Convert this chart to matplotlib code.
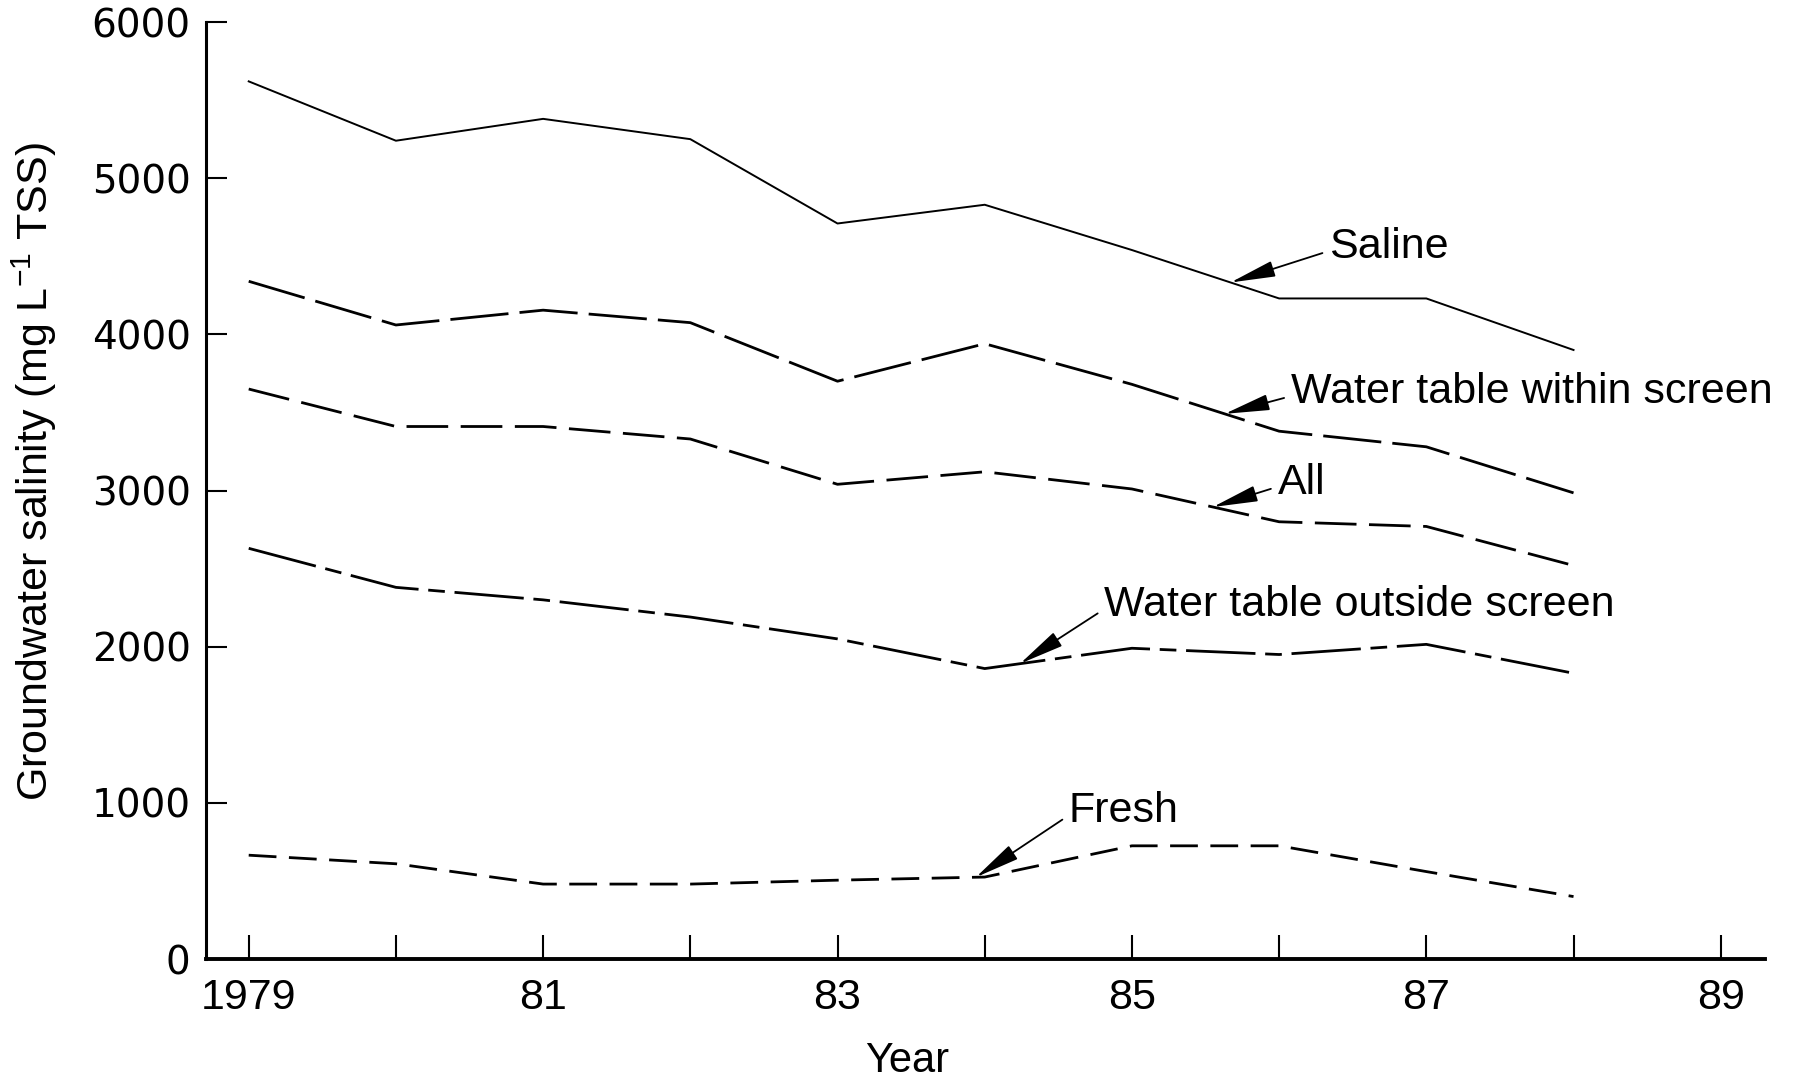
import numpy as np
import matplotlib
matplotlib.use("Agg")
import matplotlib.pyplot as plt

# annual mean groundwater salinity, mg/L TSS
years = [1979, 1980, 1981, 1982, 1983, 1984, 1985, 1986, 1987, 1988]
saline = [5620, 5240, 5380, 5250, 4710, 4830, 4540, 4230, 4230, 3900]
within_screen = [4340, 4060, 4155, 4075, 3700, 3940, 3680, 3380, 3280, 2985]
all_sites = [3650, 3410, 3410, 3330, 3040, 3120, 3010, 2800, 2770, 2520]
outside_screen = [2630, 2380, 2300, 2190, 2050, 1860, 1990, 1950, 2015, 1830]
fresh = [665, 610, 480, 480, 505, 525, 725, 725, 560, 400]

tick_years = list(range(1979, 1990))
tick_labels = ["1979", "", "81", "", "83", "", "85", "", "87", "", "89"]
y_ticks = [0, 1000, 2000, 3000, 4000, 5000, 6000]

narrow = ["Liberation Sans", "DejaVu Sans"]
plt.rcParams["lines.scale_dashes"] = False
plt.rcParams["mathtext.fontset"] = "custom"
plt.rcParams["mathtext.rm"] = "Liberation Sans"
plt.rcParams["mathtext.default"] = "regular"

fig = plt.figure(figsize=(18.12, 10.8), dpi=100)
ax = fig.add_axes([0.1137, 0.112, 0.8603, 0.8676])

ax.plot(years, saline, color="black", lw=1.4, solid_joinstyle="round")
ax.plot(years, within_screen, color="black", lw=2.0, dashes=(42, 8))
ax.plot(years, all_sites, color="black", lw=2.0, dashes=(30, 9))
ax.plot(years, outside_screen, color="black", lw=2.0, dashes=(50, 7, 12, 7))
ax.plot(years, fresh, color="black", lw=2.0, dashes=(20, 9))

ax.set_xlim(1978.71, 1989.3)
ax.set_ylim(0, 6000)

for s in ["top", "right"]:
    ax.spines[s].set_visible(False)
ax.spines["left"].set_linewidth(2.2)
ax.spines["bottom"].set_linewidth(2.8)

ax.set_xticks(tick_years)
ax.set_xticklabels(tick_labels, fontfamily=narrow, fontsize=31)
ax.set_yticks(y_ticks)
ax.set_yticklabels([str(v) for v in y_ticks], fontfamily="DejaVu Sans", fontsize=28)
ax.tick_params(axis="x", direction="in", length=17, width=1.5, pad=14)
ax.tick_params(axis="y", direction="in", length=15, width=1.5, pad=11)

ax.set_ylabel(r"Groundwater salinity (mg L$^{-1}$ TSS)", fontfamily=narrow, fontsize=31)
ax.yaxis.set_label_coords(-0.094, 0.52)
ax.set_xlabel("Year", fontfamily=narrow, fontsize=30)
ax.xaxis.set_label_coords(0.45, -0.088)

# curve labels with leader arrows
labels = [
    ("Saline", saline, 1985.67, (1986.34, 4560)),
    ("Water table within screen", within_screen, 1985.63, (1986.08, 3630)),
    ("All", all_sites, 1985.55, (1985.99, 3050)),
    ("Water table outside screen", outside_screen, 1984.24, (1984.81, 2265)),
    ("Fresh", fresh, 1983.94, (1984.57, 945)),
]
for text, series, xa, xyt in labels:
    ya = np.interp(xa, years, series)
    ax.annotate(text, xy=(xa, ya), xytext=xyt, ha="left", va="center",
                fontfamily=narrow, fontsize=31,
                arrowprops=dict(arrowstyle="-|>,head_length=0.9,head_width=0.16",
                                color="black", lw=1.3, relpos=(0, 0.4),
                                shrinkA=3, shrinkB=0))

fig.savefig("out.png", dpi=100, facecolor="white")
